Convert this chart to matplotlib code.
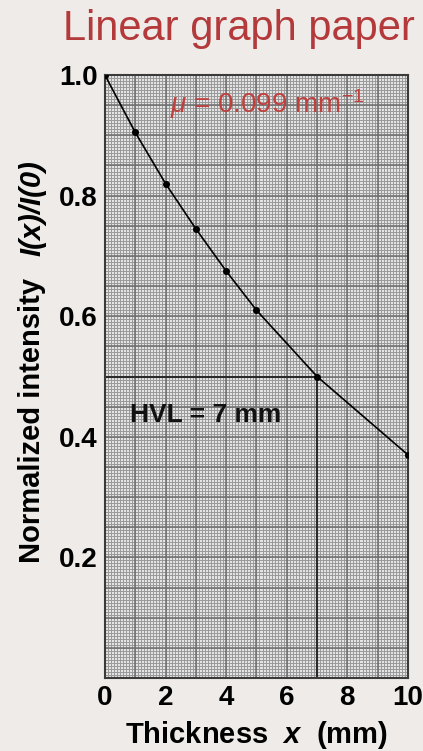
import matplotlib
matplotlib.use('Agg')
import matplotlib.pyplot as plt
import numpy as np

plt.rcParams['font.family'] = ['Liberation Sans', 'DejaVu Sans']
plt.rcParams['mathtext.fontset'] = 'custom'
plt.rcParams['mathtext.rm'] = 'Liberation Sans'
plt.rcParams['mathtext.it'] = 'Liberation Sans:italic'
plt.rcParams['mathtext.bf'] = 'Liberation Sans:bold:italic'

# data
thickness = [0, 1, 2, 3, 4, 5, 7, 10]
intensity = [1.0, 0.905, 0.82, 0.745, 0.675, 0.61, 0.5, 0.37]
hvl = 7
xticks = [0, 2, 4, 6, 8, 10]
yticks = [0.2, 0.4, 0.6, 0.8, 1.0]

red = '#b3393b'
bg = '#eeebe8'

fig = plt.figure(figsize=(4.23, 7.51), dpi=100, facecolor=bg)
ax = fig.add_axes([0.248, 0.0972, 0.7165, 0.8029])
ax.set_facecolor('#e4e4e4')

# graph paper grid
for v in np.arange(0, 10.01, 0.1):
    ax.axvline(v, color='#999999', lw=0.7, zorder=0)
for v in np.arange(0, 1.001, 0.005):
    ax.axhline(v, color='#999999', lw=0.7, zorder=0)
for v in range(0, 11):
    ax.axvline(v, color='#6e6e6e', lw=1.1, zorder=0)
for v in np.arange(0, 1.001, 0.05):
    ax.axhline(v, color='#6e6e6e', lw=1.1, zorder=0)

ax.plot(thickness, intensity, color='black', lw=1.2, zorder=3)
ax.plot(thickness, intensity, 'o', color='black', ms=4, zorder=4)

ax.plot([0, hvl], [0.5, 0.5], color='#2a2a2a', lw=1.5, zorder=2)
ax.plot([hvl, hvl], [0, 0.5], color='#2a2a2a', lw=1.5, zorder=2)

ax.text(0.83, 0.425, 'HVL = 7 mm', fontsize=19, fontweight='bold', color='#111111', zorder=5)
ax.text(2.15, 0.937, r'$\mu$ = 0.099 mm$^{-1}$', fontsize=20, color='#c0403d', zorder=5)

ax.set_xlim(0, 10)
ax.set_ylim(0, 1.0)
ax.set_xticks(xticks)
ax.set_xticklabels([str(t) for t in xticks], fontsize=20, fontweight='bold')
ax.set_yticks(yticks)
ax.set_yticklabels(['%.1f' % t for t in yticks], fontsize=20, fontweight='bold')
ax.tick_params(length=0, pad=5)
for s in ax.spines.values():
    s.set_color('#3a3a3a')
    s.set_linewidth(1.5)

ax.set_xlabel(r'Thickness  $\mathbf{x}$  (mm)', fontsize=21, fontweight='bold', labelpad=6)
fig.text(32 / 423, 1 - 420 / 751, 'Normalized intensity', rotation=90, fontsize=21,
         fontweight='bold', ha='center', va='center')
fig.text(32 / 423, 1 - 208 / 751, 'I(x)/I(0)', rotation=90, fontsize=21,
         fontweight='bold', style='italic', ha='center', va='center')

fig.text(415 / 423, 1 - 40 / 751, 'Linear graph paper', fontsize=30, color=red,
         ha='right', va='baseline')

fig.savefig('out.png', dpi=100, facecolor=bg)
